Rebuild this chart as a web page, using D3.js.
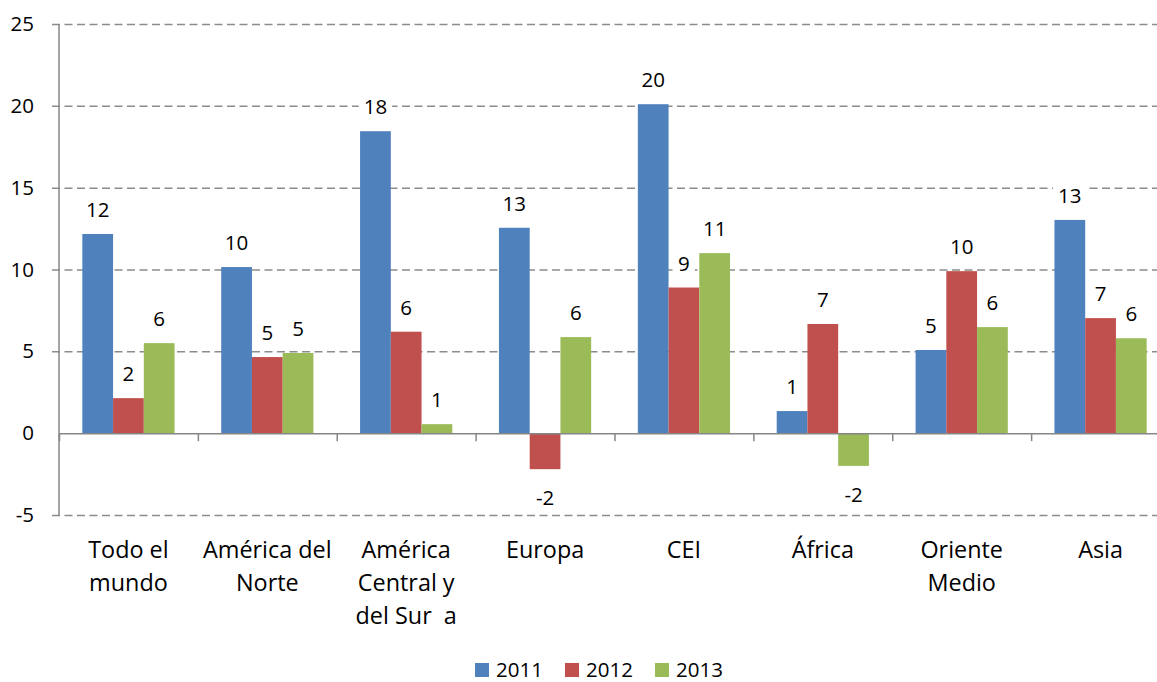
<!DOCTYPE html>
<html>
<head>
<meta charset="utf-8">
<script src="https://cdn.jsdelivr.net/npm/d3@7"></script>
<style>
  body { margin: 0; background: #fff; }
  svg { display: block; font-family: "Open Sans", sans-serif; }
  text { white-space: pre; }
</style>
</head>
<body>
<svg width="1157" height="682"></svg>
<script>
// data
const categories = [
  ["Todo el", "mundo"],
  ["América del", "Norte"],
  ["América", "Central y", "del Sur  a"],
  ["Europa"],
  ["CEI"],
  ["África"],
  ["Oriente", "Medio"],
  ["Asia"]
];
const years = ["2011", "2012", "2013"];
const v2011 = [12.17, 10.15, 18.45, 12.55, 20.1, 1.35, 5.08, 13.03];
const v2012 = [2.14, 4.65, 6.2, -2.2, 8.9, 6.67, 9.9, 7.03];
const v2013 = [5.5, 4.9, 0.55, 5.87, 11.0, -2.0, 6.48, 5.8];
const yTicks = [-5, 0, 5, 10, 15, 20, 25];
const colors = ["#4F81BD", "#C0504D", "#9BBB59"];

const series = [v2011, v2012, v2013];

const svg = d3.select("svg");
const plotL = 59, plotR = 1170, plotT = 24, plotB = 515;

let y = d3.scaleLinear().domain([-5, 25]).range([plotB, plotT]);
let x = d3.scaleBand().domain(d3.range(categories.length)).range([plotL, plotR]);
let bw = x.bandwidth();
let xInner = d3.scaleBand().domain(years).range([bw * 0.168, bw * (1 - 0.168)]);
let xEdge = d3.scaleLinear().domain([0, categories.length]).range([plotL, plotR]);

// gridlines
svg.append("g")
  .attr("transform", `translate(52,0)`)
  .call(d3.axisRight(y).tickValues(yTicks.filter(t => t != 0)).tickSize(plotR - 52).tickFormat(""))
  .call(g => g.select(".domain").remove())
  .call(g => g.selectAll("line").attr("stroke", "#8c8c8c").attr("stroke-width", 1.5).attr("stroke-dasharray", "8,4.5"));

// y tick labels
svg.append("g")
  .attr("transform", `translate(${plotL},0)`)
  .call(d3.axisLeft(y).tickValues(yTicks).tickSize(0).tickPadding(25).tickFormat(d => String(d)))
  .call(g => g.select(".domain").remove())
  .call(g => g.selectAll("text").attr("font-size", "20.5px").attr("fill", "#000").attr("font-family", "Open Sans"));

// bars
years.forEach(function(yr, si) {
  svg.append("g").selectAll("rect")
    .data(series[si])
    .enter().append("rect")
      .attr("x", (d, i) => x(i) + xInner(yr))
      .attr("width", xInner.bandwidth())
      .attr("y", d => y(Math.max(0, d)))
      .attr("height", d => Math.abs(y(d) - y(0)))
      .attr("fill", colors[si]);
});

// y axis line
svg.append("line")
  .attr("x1", plotL).attr("x2", plotL)
  .attr("y1", y(25)).attr("y2", y(-5))
  .attr("stroke", "#868686").attr("stroke-width", 1.5);

// x axis at zero with boundary ticks
svg.append("g")
  .attr("transform", `translate(0,${y(0)})`)
  .call(d3.axisBottom(xEdge).ticks(categories.length).tickSize(8).tickSizeOuter(0).tickFormat(""))
  .call(g => g.select(".domain").attr("stroke", "#868686").attr("stroke-width", 1.5))
  .call(g => g.selectAll("line").attr("stroke", "#868686").attr("stroke-width", 1.5));

// value labels
years.forEach(function(yr, si) {
  let lg = svg.append("g").selectAll("g")
    .data(series[si])
    .enter().append("g");
  lg.append("rect").attr("fill", "#fff");
  lg.append("text")
    .attr("x", (d, i) => x(i) + xInner(yr) + xInner.bandwidth() / 2)
    .attr("y", d => d >= 0 ? y(d) - 17 : y(d) + 36)
    .attr("text-anchor", "middle")
    .attr("font-size", "20.5px")
    .text(d => String(Math.round(d)));
  lg.each(function() {
    let g = d3.select(this);
    let b = g.select("text").node().getBBox();
    g.select("rect")
      .attr("x", b.x - 5).attr("y", b.y + 2)
      .attr("width", b.width + 10).attr("height", b.height - 4);
  });
});

// category labels
let cat = svg.append("g").selectAll("text")
  .data(categories)
  .enter().append("text")
    .attr("x", (d, i) => x(i) + bw / 2)
    .attr("y", 558)
    .attr("text-anchor", "middle")
    .attr("font-size", "23.4px");
cat.selectAll("tspan")
  .data(d => d)
  .enter().append("tspan")
    .attr("x", function() { return this.parentNode.getAttribute("x"); })
    .attr("dy", (d, i) => i == 0 ? 0 : 33)
    .text(d => d);

// legend
let leg = svg.append("g").selectAll("g")
  .data(years)
  .enter().append("g")
    .attr("transform", (d, i) => `translate(${475 + i * 90},663)`);
leg.append("rect")
  .attr("width", 14).attr("height", 14)
  .attr("fill", (d, i) => colors[i]);
leg.append("text")
  .attr("x", 21).attr("y", 14)
  .attr("font-size", "20.5px")
  .text(d => d);
</script>
</body>
</html>
